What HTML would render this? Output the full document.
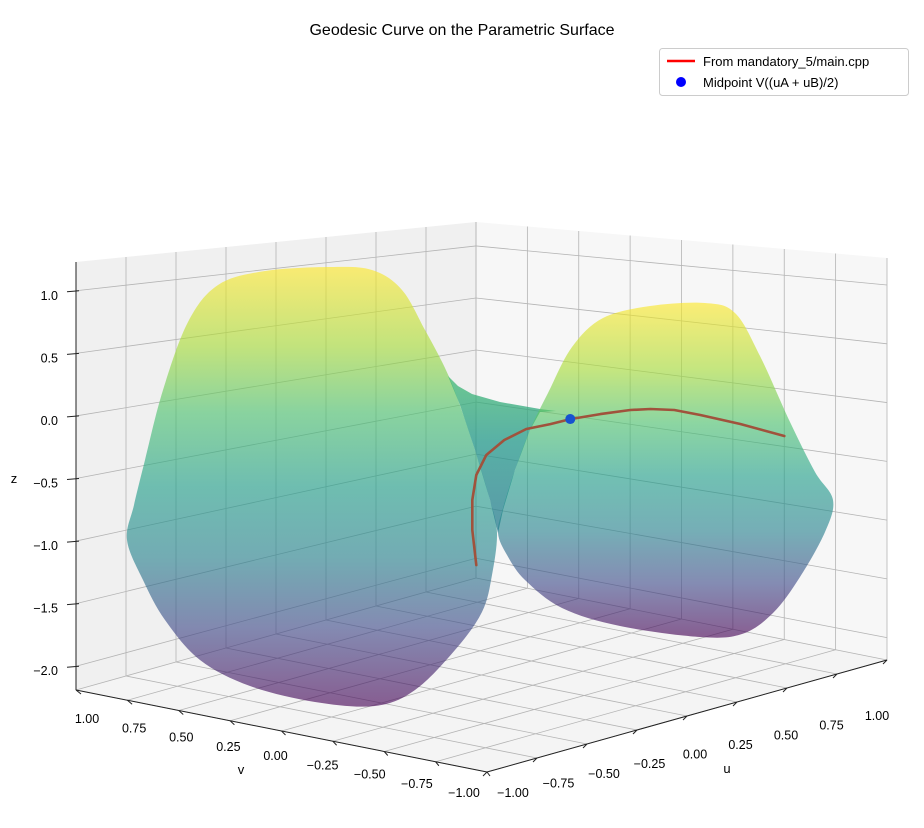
<!DOCTYPE html>
<html><head><meta charset="utf-8"><style>
html,body{margin:0;padding:0;background:#fff;}
svg{display:block;font-family:"Liberation Sans","DejaVu Sans",sans-serif;}
</style></head><body>
<svg id="chart" width="924" height="828" viewBox="0 0 924 828" xmlns="http://www.w3.org/2000/svg">
<defs>
<linearGradient id="gL" gradientUnits="userSpaceOnUse" x1="0" y1="268" x2="0" y2="706">
<stop offset="0" stop-color="#fde725"/><stop offset="0.18" stop-color="#a5db36"/><stop offset="0.33" stop-color="#4ac16d"/><stop offset="0.5" stop-color="#1f9e89"/><stop offset="0.66" stop-color="#26828e"/><stop offset="0.82" stop-color="#3e4a89"/><stop offset="1" stop-color="#440154"/></linearGradient>
<linearGradient id="gR" gradientUnits="userSpaceOnUse" x1="0" y1="303" x2="0" y2="637">
<stop offset="0" stop-color="#fde725"/><stop offset="0.2" stop-color="#a5db36"/><stop offset="0.36" stop-color="#4ac16d"/><stop offset="0.52" stop-color="#1f9e89"/><stop offset="0.68" stop-color="#26828e"/><stop offset="0.84" stop-color="#3e4a89"/><stop offset="1" stop-color="#440154"/></linearGradient>
<linearGradient id="gN" gradientUnits="userSpaceOnUse" x1="0" y1="380" x2="0" y2="533">
<stop offset="0" stop-color="#3fb872"/><stop offset="0.4" stop-color="#23998a"/><stop offset="1" stop-color="#25798e"/></linearGradient>
</defs>
<text x="462" y="35" font-size="16" text-anchor="middle" fill="#000">Geodesic Curve on the Parametric Surface</text>
<g id="panes"></g>
<g id="grid"></g>
<g id="surface"></g>
<g id="axes"></g>
<g id="series"></g>
<g>
<rect x="659.5" y="48.5" width="249" height="47" rx="3" fill="#fff" fill-opacity="0.85" stroke="#cccccc"/>
<line x1="667" y1="61" x2="695" y2="61" stroke="#ff0000" stroke-width="2.5"/>
<text x="703" y="66" font-size="13">From mandatory_5/main.cpp</text>
<circle cx="681" cy="82" r="5" fill="#0000ff"/>
<text x="703" y="87" font-size="13">Midpoint V((uA + uB)/2)</text>
</g>
</svg>
<script>
const uTicks = [-1, -0.75, -0.5, -0.25, 0, 0.25, 0.5, 0.75, 1];
const vTicks = [-1, -0.75, -0.5, -0.25, 0, 0.25, 0.5, 0.75, 1];
const zTicks = [-2, -1.5, -1, -0.5, 0, 0.5, 1];
const uTickLabels = ["−1.00","−0.75","−0.50","−0.25","0.00","0.25","0.50","0.75","1.00"];
const vTickLabels = ["−1.00","−0.75","−0.50","−0.25","0.00","0.25","0.50","0.75","1.00"];
const zTickLabels = ["−2.0","−1.5","−1.0","−0.5","0.0","0.5","1.0"];
const curveU = [-0.54,-0.56,-0.56,-0.54,-0.49,-0.40,-0.29,-0.17,-0.07,0.08,0.23,0.33,0.45,0.58,0.78,1.00];
const curveV = [-0.5,-0.5,-0.5,-0.5,-0.5,-0.5,-0.5,-0.5,-0.5,-0.5,-0.5,-0.5,-0.5,-0.5,-0.5,-0.5];
const curveZ = [-0.958,-0.683,-0.453,-0.267,-0.127,-0.034,0.023,0.031,0.045,0.046,0.039,0.021,-0.020,-0.099,-0.234,-0.408];
const midU = [-0.07];
const midV = [-0.5];
const midZ = [0.045];

const ZMIN = -2.19, ZMAX = 1.23;
function P(u, v, z) {
  const x = 487 + 200*(u+1) - 205.5*(v+1);
  const yf = 772 - 56*(u+1) - 41*(v+1);
  const h = 415 - 36*u - 23*v;
  return [x, yf - (z - ZMIN)/(ZMAX - ZMIN)*h];
}
const NS = "http://www.w3.org/2000/svg";
function mk(tag, attrs, parent) {
  const e = document.createElementNS(NS, tag);
  for (const k in attrs) e.setAttribute(k, attrs[k]);
  parent.appendChild(e);
  return e;
}
const panes = document.getElementById('panes');
const grid = document.getElementById('grid');
const surf = document.getElementById('surface');
const axes = document.getElementById('axes');
const series = document.getElementById('series');
function poly(pts){return pts.map(p=>p[0].toFixed(1)+','+p[1].toFixed(1)).join(' ');}
function smooth(pts){
  const n = pts.length; let d = 'M' + pts[0][0] + ',' + pts[0][1];
  for (let i = 0; i < n; i++) {
    const p0 = pts[(i-1+n)%n], p1 = pts[i], p2 = pts[(i+1)%n], p3 = pts[(i+2)%n];
    const c1 = [p1[0]+(p2[0]-p0[0])/6, p1[1]+(p2[1]-p0[1])/6];
    const c2 = [p2[0]-(p3[0]-p1[0])/6, p2[1]-(p3[1]-p1[1])/6];
    d += ' C' + c1[0].toFixed(1)+','+c1[1].toFixed(1)+' '+c2[0].toFixed(1)+','+c2[1].toFixed(1)+' '+p2[0]+','+p2[1];
  }
  return d + ' Z';
}

let pl = mk('polygon', {points: poly([P(-1,1,ZMIN),P(1,1,ZMIN),P(1,1,ZMAX),P(-1,1,ZMAX)]), fill:'#f0f0f0'}, panes);


let pr = mk('polygon', {points: poly([P(1,1,ZMIN),P(1,-1,ZMIN),P(1,-1,ZMAX),P(1,1,ZMAX)]), fill:'#f7f7f7'}, panes);


let pf = mk('polygon', {points: poly([P(-1,-1,ZMIN),P(1,-1,ZMIN),P(1,1,ZMIN),P(-1,1,ZMIN)]), fill:'#f4f4f4'}, panes);



function gl(a, b) {
  const l = mk('line', {x1:a[0],y1:a[1],x2:b[0],y2:b[1],stroke:'#b4b4b4','stroke-width':0.8}, grid);
  
  
}
uTicks.forEach(u => { gl(P(u,1,ZMIN), P(u,1,ZMAX)); gl(P(u,-1,ZMIN), P(u,1,ZMIN)); });
vTicks.forEach(v => { gl(P(1,v,ZMIN), P(1,v,ZMAX)); gl(P(-1,v,ZMIN), P(1,v,ZMIN)); });
zTicks.forEach(z => { gl(P(-1,1,z), P(1,1,z)); gl(P(1,1,z), P(1,-1,z)); });

const leftLobe = [[127,540],[134,505],[145,460],[163,390],[188,322],[218,285],[265,271],[330,267],[372,270],[402,290],[425,330],[445,368],[458,400],[475,450],[490,500],[497,533],[492,575],[482,612],[455,650],[415,690],[375,706],[315,702],[250,686],[200,660],[165,620],[143,580]];
const rightLobe = [[498,533],[503,508],[515,470],[530,430],[548,393],[572,347],[603,318],[650,306],[705,303],[735,313],[760,356],[790,422],[815,472],[833,500],[825,532],[800,577],[773,613],[742,634],[700,637],[620,626],[562,608],[525,580],[507,555]];
const neck = [[448,376],[458,386],[472,394],[500,402],[540,409],[556,411],[540,412],[530,430],[515,470],[503,510],[498,533],[490,500],[475,450],[460,405]];
let s1 = mk('path', {d: smooth(leftLobe), fill:'url(#gL)', 'fill-opacity':0.62}, surf);


let s3 = mk('polygon', {points: poly(neck), fill:'url(#gN)', 'fill-opacity':0.75}, surf);


let s2 = mk('path', {d: smooth(rightLobe), fill:'url(#gR)', 'fill-opacity':0.62}, surf);



function axLine(a, b, name) {
  const l = mk('line', {x1:a[0],y1:a[1],x2:b[0],y2:b[1],stroke:'#222','stroke-width':1}, axes);
  
  
}
axLine(P(-1,1,ZMIN), P(-1,1,ZMAX), 'z-axis-line');
axLine(P(-1,1,ZMIN), P(-1,-1,ZMIN), 'v-axis-line');
axLine(P(-1,-1,ZMIN), P(1,-1,ZMIN), 'u-axis-line');

function txt(x, y, s, name, anchor, size) {
  const t = mk('text', {x:x, y:y, 'font-size':size||12.5, 'text-anchor':anchor||'middle', fill:'#000'}, axes);
  t.textContent = s;
  
  
}
zTicks.forEach((z, i) => {
  const p = P(-1,1,z);
  const t = mk('line', {x1:p[0]-9,y1:p[1]+1,x2:p[0]+3,y2:p[1],stroke:'#222','stroke-width':1}, axes);
  
  
  txt(58, p[1]+9, zTickLabels[i], 'z-tick-label', 'end');
});
vTicks.forEach((v, i) => {
  const p = P(-1,v,ZMIN);
  const s = (1 - v)/2;
  const t = mk('line', {x1:p[0],y1:p[1],x2:p[0]+5-2*s,y2:p[1]+4,stroke:'#222','stroke-width':1}, axes);
  
  
  txt(p[0] + 11 - 34*s, p[1] + 33 - 8*s, vTickLabels[i], 'v-tick-label');
});
uTicks.forEach((u, i) => {
  const p = P(u,-1,ZMIN);
  const s = (u + 1)/2;
  const t = mk('line', {x1:p[0],y1:p[1],x2:p[0]-4,y2:p[1]+4,stroke:'#222','stroke-width':1}, axes);
  
  
  txt(p[0] + 26 - 36*s, p[1] + 25 + 35*s, uTickLabels[i], 'u-tick-label');
});
txt(14, 483, 'z', 'z-axis-title', 'middle', 13);
txt(241, 774, 'v', 'v-axis-title', 'middle', 13);
txt(727, 773, 'u', 'u-axis-title', 'middle', 13);

const cpts = curveU.map((u, i) => P(u, curveV[i], curveZ[i]));
const curve = mk('polyline', {points: poly(cpts), fill:'none', stroke:'#a0523c', 'stroke-width':2.6, 'stroke-linejoin':'round', 'stroke-linecap':'round'}, series);


midU.forEach((u, i) => {
  const p = P(u, midV[i], midZ[i]);
  const c = mk('circle', {cx:p[0], cy:p[1], r:5, fill:'#1652d0'}, series);
  
  
});
</script>
</body></html>
